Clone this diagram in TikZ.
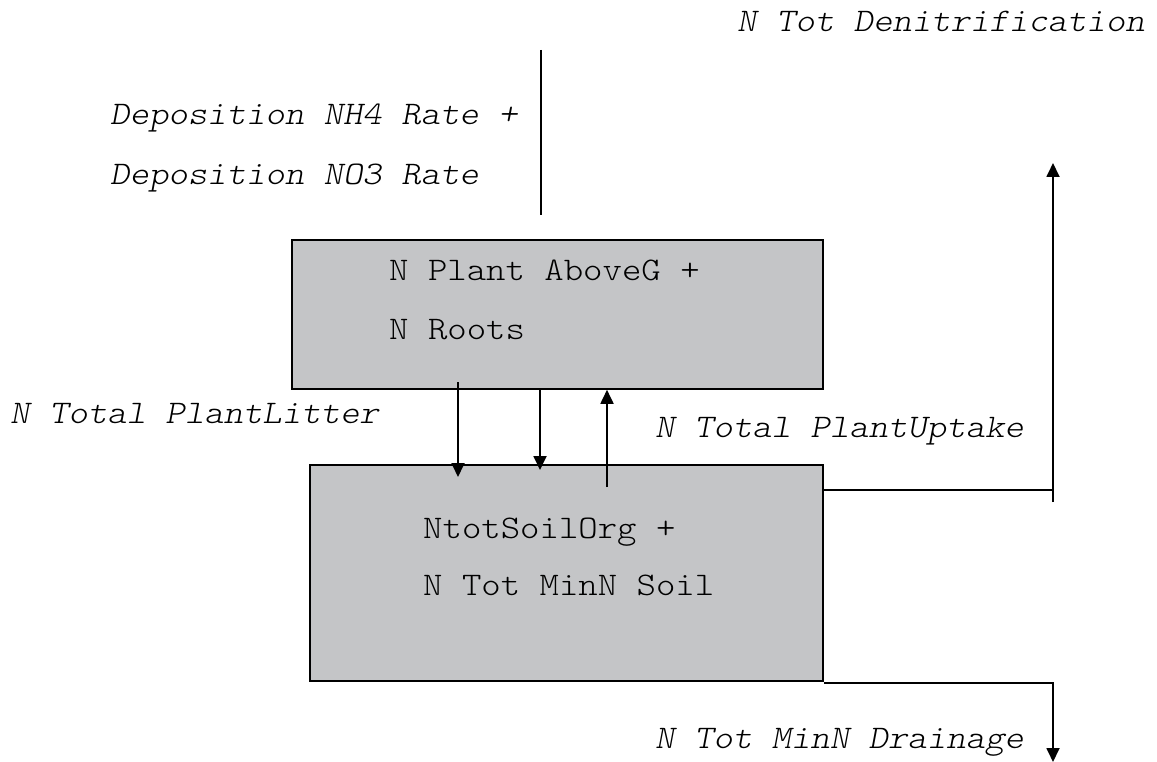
\documentclass[tikz,border=0pt]{standalone}
\usepackage{fontspec}
\usetikzlibrary{arrows.meta}
\newfontfamily\monofam{lmmonolt10-regular}[Extension=.otf, ItalicFont=lmmonolt10-oblique, FakeStretch=1.12]
\definecolor{boxgray}{RGB}{196,197,199}
\tikzset{
  stockbox/.style={draw=black, fill=boxgray, line width=1.8pt, rectangle, inner sep=0pt, anchor=north west},
  boxtext/.style={anchor=base west, inner sep=0pt, font=\monofam\fontsize{33}{38}\selectfont},
  flowlabel/.style={anchor=base west, inner sep=0pt, font=\monofam\itshape\fontsize{33}{38}\selectfont},
  pipe/.style={line width=1.8pt, draw=black},
  flow/.style={pipe, -{Triangle[length=14pt,width=13pt]}},
}
\begin{document}
\begin{tikzpicture}[x=1pt,y=-1pt]
\useasboundingbox (0,0) rectangle (1157,762);

% stocks
\node[stockbox, minimum width=531pt, minimum height=149pt] (plant) at (291,239) {};
\node[stockbox, minimum width=513pt, minimum height=216pt] (soil) at (309,464) {};

\node[boxtext] (plantA) at (389,280) {N Plant AboveG +};
\node[boxtext] (plantB) at (389,339) {N Roots};
\node[boxtext] (soilA) at (423,538) {NtotSoilOrg +};
\node[boxtext] (soilB) at (423,595) {N Tot MinN Soil};

% flow labels
\node[flowlabel] (denit) at (737,32) {N Tot Denitrification};
\node[flowlabel] (depA) at (110,125) {Deposition NH4 Rate +};
\node[flowlabel] (depB) at (110,185) {Deposition NO3 Rate};
\node[flowlabel] (litter) at (10,423) {N Total PlantLitter};
\node[flowlabel] (uptake) at (655,437) {N Total PlantUptake};
\node[flowlabel] (drain) at (655,748) {N Tot MinN Drainage};

% helper points for the flow lines
\coordinate (depTop) at (541,50);
\coordinate (depEnd) at (541,215);
\coordinate (litStart) at (458,382);
\coordinate (litEnd) at (458,477);
\coordinate (x2) at (540,0);
\coordinate (x3) at (607,0);
\coordinate (upStart) at (607,487);
\coordinate (denCorner) at (1053,490);
\coordinate (denBase) at (1053,502);
\coordinate (denTip) at (1053,163);
\coordinate (drCorner) at (1053,683);
\coordinate (drTip) at (1053,762);

% deposition
\draw[pipe] (depTop) -- (depEnd);

% litter and uptake between the stocks
\draw[flow] (litStart) -- (litEnd);
\draw[flow] (plant.south -| x2) -- (540,470);
\draw[flow] (upStart) -- (plant.south -| x3);

% denitrification
\draw[pipe] (soil.north east |- denCorner) -- (denCorner);
\draw[flow] (denBase) -- (denTip);

% drainage
\draw[flow] (soil.south east |- drCorner) -- (drCorner) -- (drTip);
\end{tikzpicture}
\end{document}
